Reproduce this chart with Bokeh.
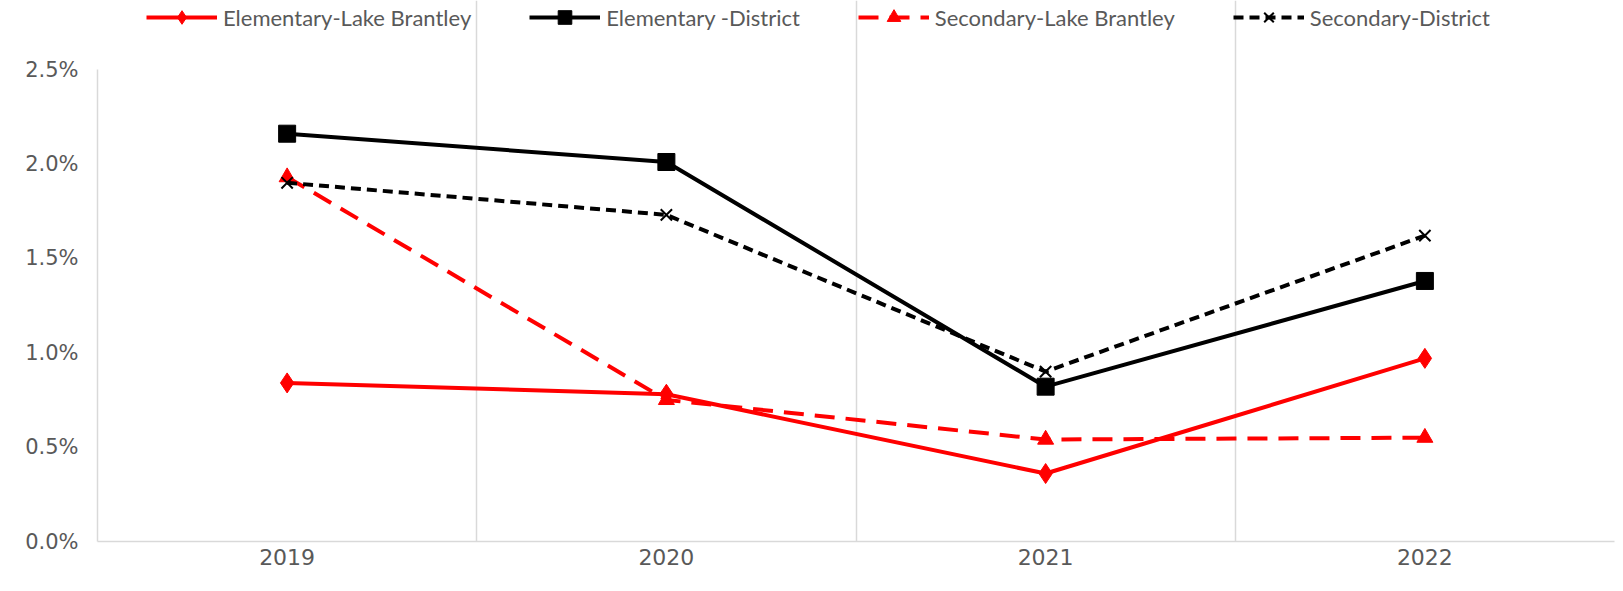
from bokeh.plotting import figure
from bokeh.models import (FactorRange, FixedTicker, PrintfTickFormatter, Legend, LegendItem,
                          ColumnDataSource)
from bokeh.embed import file_html
from bokeh.resources import INLINE

years = ["2019", "2020", "2021", "2022"]
elem_lb = [0.84, 0.78, 0.36, 0.97]
elem_district = [2.16, 2.01, 0.82, 1.38]
sec_lb = [1.93, 0.75, 0.54, 0.55]
sec_district = [1.90, 1.73, 0.90, 1.62]
y_ticks = [0.0, 0.5, 1.0, 1.5, 2.0, 2.5]
series_names = ["Elementary-Lake Brantley", "Elementary -District",
                "Secondary-Lake Brantley", "Secondary-District"]

# frame spans the full canvas height above the x axis; the value axis (0-2.5%)
# occupies its lower 472 px, leaving the top strip for the legend
Y_MAX = 2.5
y_end = Y_MAX * 541 / 472

p = figure(width=1615, height=583, output_backend="svg", toolbar_location=None,
           x_range=FactorRange(factors=years, range_padding=0), y_range=(0, y_end),
           min_border_left=97, min_border_right=1, min_border_top=0, min_border_bottom=42)
p.outline_line_color = None
p.background_fill_color = "white"

# grid at category boundaries, limited to the value range
p.xgrid.ticker = FixedTicker(ticks=[0, 1, 2, 3, 4])
p.xgrid.bounds = (0, Y_MAX)
p.xgrid.grid_line_color = "#D9D9D9"
p.xgrid.grid_line_width = 1.5
p.ygrid.grid_line_color = None

p.yaxis.ticker = FixedTicker(ticks=y_ticks)
p.yaxis.bounds = (0, Y_MAX)
p.yaxis.formatter = PrintfTickFormatter(format="%.1f%%")
for ax in (p.xaxis[0], p.yaxis[0]):
    ax.axis_line_color = "#D9D9D9"
    ax.axis_line_width = 1.5
    ax.major_tick_line_color = None
    ax.minor_tick_line_color = None
    ax.major_label_text_color = "#595959"
    ax.major_label_text_font = "DejaVu Sans"
    ax.major_label_text_font_size = "21px"
p.yaxis.major_label_standoff = 13
p.xaxis.major_label_standoff = 1
p.xaxis.major_label_text_font_size = "22px"

styles = [
    dict(color="#FF0000", dash="solid", marker="diamond", size=20),
    dict(color="#000000", dash="solid", marker="square", size=17),
    dict(color="#FF0000", dash="20 11", marker="triangle", size=16),
    dict(color="#000000", dash="10 6", marker="x", size=16),
]
data = [elem_lb, elem_district, sec_lb, sec_district]

items = []
for name, vals, st in zip(series_names, data, styles):
    src = ColumnDataSource(dict(x=years, y=vals))
    lr = p.line("x", "y", source=src, line_color=st["color"], line_width=4,
                line_dash=st["dash"])
    if st["marker"] == "x":
        mr = p.scatter("x", "y", source=src, marker="x", size=st["size"],
                       line_color=st["color"], line_width=2)
    else:
        mr = p.scatter("x", "y", source=src, marker=st["marker"], size=st["size"],
                       fill_color=st["color"], line_color=st["color"])
    items.append(LegendItem(label=name, renderers=[lr, mr]))

legend = Legend(items=items, orientation="horizontal", location=(49, 507),
                glyph_width=71, glyph_height=34, label_standoff=6, spacing=58,
                padding=0, margin=0, border_line_color=None, background_fill_alpha=0,
                label_text_font="Lato", label_text_font_size="22px",
                label_text_color="#595959")
p.add_layout(legend, "center")

open("out.html", "w").write(file_html(p, INLINE))
